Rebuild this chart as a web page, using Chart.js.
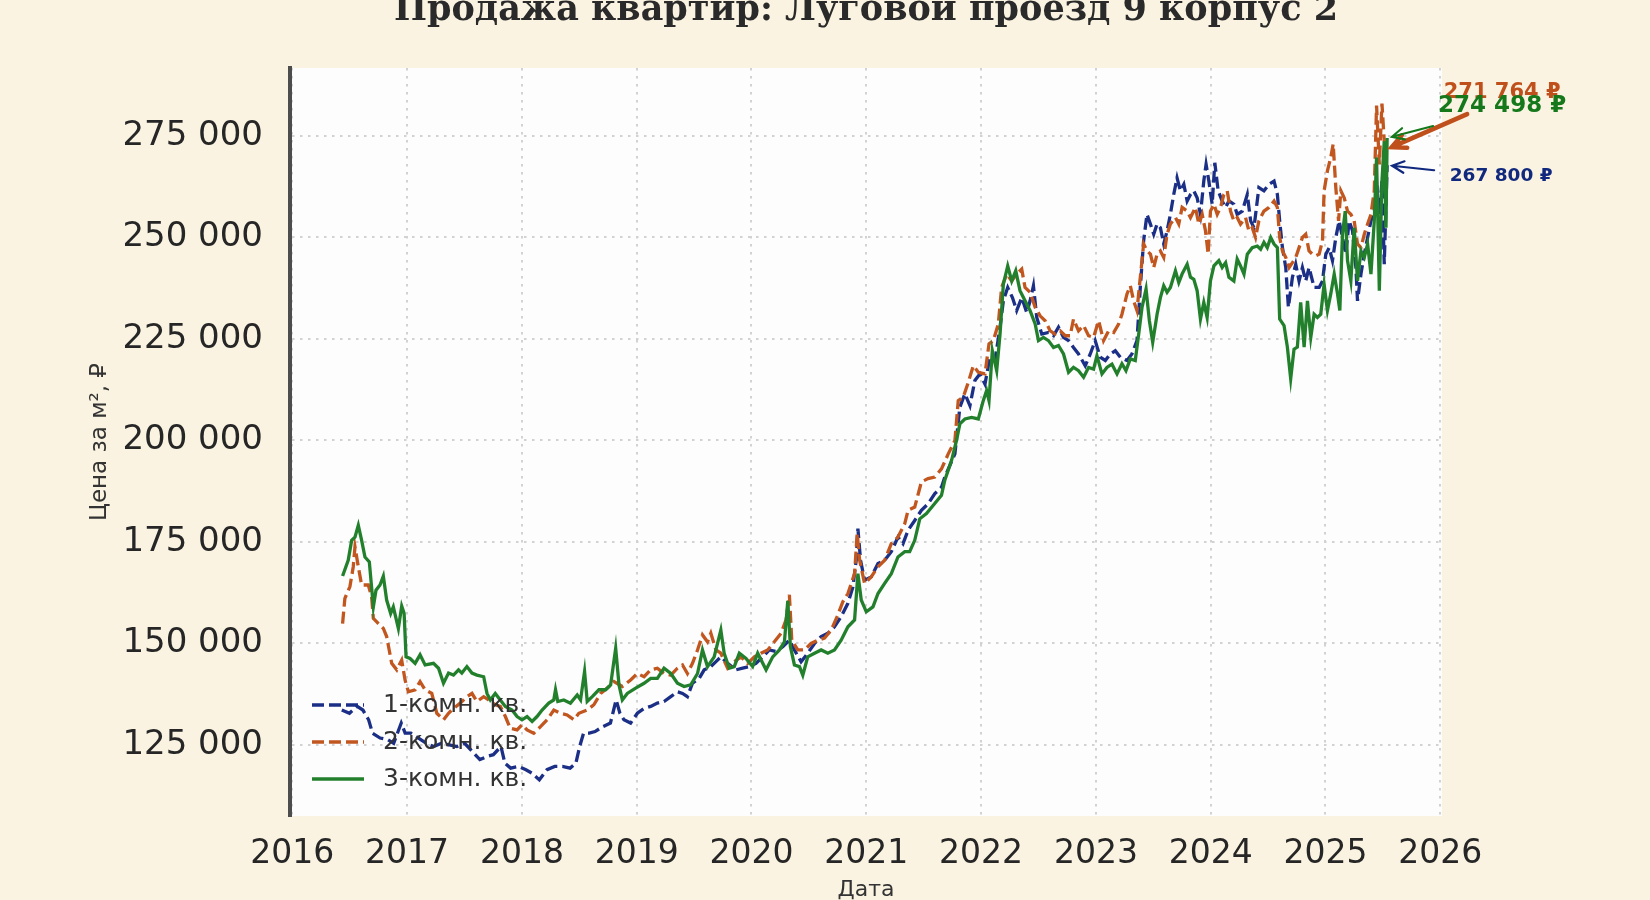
<!DOCTYPE html>
<html>
<head>
<meta charset="utf-8">
<script src="https://cdn.jsdelivr.net/npm/chart.js@4.4.1/dist/chart.umd.min.js"></script>
<style>
  html, body { margin: 0; padding: 0; background: #faf3e1; }
  canvas { display: block; }
</style>
</head>
<body>
<canvas id="chartCanvas" width="1650" height="900"></canvas>
<script>
const chartTitle = "Продажа квартир: Луговой проезд 9 корпус 2";
const seriesNames = ["1-комн. кв.", "2-комн. кв.", "3-комн. кв."];
const yearTicks = [2016, 2017, 2018, 2019, 2020, 2021, 2022, 2023, 2024, 2025, 2026];
const priceTicks = [125000, 150000, 175000, 200000, 225000, 250000, 275000];

// 1-комн. кв. (dates as decimal years, price per m2)
const dates1 = [
  2016.431,2016.498,2016.565,2016.615,2016.665,2016.699,2016.765,2016.832,2016.883,2016.949,2016.983,
  2017.033,2017.099,2017.167,2017.233,2017.300,2017.367,2017.434,2017.501,2017.567,2017.634,2017.701,2017.751,2017.818,2017.852,2017.902,2017.969,
  2018.035,2018.085,2018.152,2018.219,2018.286,2018.353,2018.420,2018.470,2018.503,2018.537,2018.587,2018.637,2018.704,2018.771,2018.821,2018.854,
  2018.889,2018.947,
  2019.006,2019.064,2019.122,2019.180,2019.238,2019.297,2019.355,2019.399,2019.442,2019.486,2019.544,2019.588,2019.646,2019.704,2019.733,2019.792,2019.864,2019.923,2019.981,
  2020.039,2020.097,2020.156,2020.214,2020.272,2020.330,2020.374,2020.432,2020.490,2020.549,2020.607,2020.665,2020.723,2020.781,2020.840,2020.883,2020.912,2020.927,2020.950,2020.985,
  2021.043,2021.102,2021.160,2021.218,2021.276,2021.320,2021.364,2021.422,2021.480,2021.538,2021.597,2021.655,
  2021.684,2021.772,2021.815,2021.859,2021.903,2021.946,2021.990,
  2022.034,2022.077,2022.121,2022.165,2022.194,2022.232,2022.273,2022.310,2022.354,2022.398,2022.427,2022.456,2022.485,2022.529,2022.587,2022.631,2022.674,2022.718,2022.762,2022.805,2022.849,2022.907,2022.951,2022.994,
  2023.038,2023.082,2023.125,2023.169,2023.213,
  2023.271,2023.314,2023.358,2023.387,2023.416,2023.445,2023.475,2023.504,2023.533,2023.562,2023.591,2023.620,2023.649,2023.678,2023.707,2023.736,2023.766,2023.795,2023.824,2023.853,2023.882,2023.911,2023.940,2023.960,2023.984,
  2024.013,2024.036,2024.065,2024.100,2024.130,2024.159,2024.202,2024.231,2024.275,2024.319,2024.348,2024.377,2024.420,2024.464,2024.508,2024.552,2024.581,2024.601,2024.625,2024.654,2024.677,2024.712,2024.741,2024.770,2024.799,2024.828,2024.857,2024.901,2024.945,2024.974,
  2025.003,2025.032,2025.061,2025.090,2025.119,2025.148,2025.177,2025.206,2025.236,2025.265,2025.279,2025.309,2025.338,2025.367,2025.396,2025.425,2025.445,2025.469,2025.492,2025.512,2025.537
];
const price1 = [
  133600,132800,134500,133600,131200,127900,126700,126300,125400,130400,127900,
  127900,126700,125400,124600,125400,125000,124600,125400,123400,121400,122200,122600,124600,120500,119300,119700,
  118900,118100,116400,118900,119700,119700,119300,120500,124600,127900,127900,128300,129500,130400,136100,132800,
  131200,130400,
  132800,134000,134500,135300,135700,136900,138100,137700,136900,140200,141400,143500,144300,145900,146700,145100,143500,143900,144300,
  145100,146700,148400,148000,149200,150800,148400,145500,147600,150000,151700,152500,154100,156600,159900,163900,170500,178300,170500,165600,
  166400,169700,170500,172600,176200,174600,177900,180300,182800,184400,186900,188500,
  191000,196700,208200,211500,208600,214800,216400,
  213900,220500,219700,227900,234400,237700,235200,232000,235200,231500,234400,238100,230300,226200,226600,225800,227900,225400,224600,222900,221300,218400,221300,224600,
  220500,219700,221300,222100,220500,
  219700,221300,224600,237700,249200,255700,253300,250800,253300,252400,248400,251600,255700,260600,264700,261500,263100,259000,260600,261500,259800,255700,263900,268000,263900,
  258200,268400,261500,259000,257400,259000,258200,255700,256500,260600,254100,252400,262300,261500,263100,263900,260600,254100,247500,242600,232800,240200,243400,239300,242600,239300,242600,237700,237700,239300,
  245900,247500,244300,250000,254100,250000,245900,254100,251600,242600,234400,241000,245900,250000,254100,256500,263900,255700,263900,243400,267800
];

// 2-комн. кв.
const dates2 = [
  2016.438,2016.458,2016.502,2016.531,2016.546,2016.575,2016.604,2016.662,2016.691,2016.706,2016.750,2016.793,2016.822,2016.866,2016.910,2016.953,2016.982,
  2017.011,2017.070,2017.113,2017.157,2017.215,2017.259,2017.317,2017.361,2017.404,2017.463,2017.521,2017.565,2017.608,2017.667,2017.710,2017.768,2017.812,2017.856,2017.899,2017.958,
  2018.001,2018.045,2018.103,2018.162,2018.220,2018.278,2018.336,2018.394,2018.453,2018.496,2018.569,2018.627,2018.686,2018.744,2018.802,
  2018.875,2018.947,
  2019.006,2019.064,2019.122,2019.180,2019.238,2019.297,2019.355,2019.399,2019.442,2019.486,2019.530,2019.573,2019.617,2019.646,2019.690,2019.733,2019.792,2019.850,2019.908,2019.966,
  2020.025,2020.083,2020.141,2020.199,2020.257,2020.301,2020.330,2020.351,2020.403,2020.461,2020.519,2020.578,2020.636,2020.694,2020.752,2020.796,2020.840,2020.898,2020.921,2020.942,2020.985,
  2021.043,2021.102,2021.160,2021.218,2021.276,2021.335,2021.364,2021.422,2021.480,2021.538,2021.597,2021.655,
  2021.714,2021.772,2021.801,2021.845,2021.888,2021.932,2021.976,
  2022.034,2022.069,2022.107,2022.150,2022.179,2022.223,2022.267,2022.310,2022.354,2022.383,2022.427,2022.471,2022.514,2022.558,2022.602,2022.645,2022.689,2022.733,2022.776,2022.805,2022.849,2022.893,2022.936,2022.980,
  2023.024,2023.067,2023.111,2023.155,2023.198,
  2023.227,2023.271,2023.300,2023.329,2023.358,2023.387,2023.416,2023.445,2023.475,2023.504,2023.533,2023.562,2023.591,2023.620,2023.649,2023.693,2023.722,2023.751,2023.795,2023.824,2023.867,2023.897,2023.926,2023.955,2023.978,2023.998,
  2024.028,2024.057,2024.086,2024.115,2024.144,2024.173,2024.202,2024.231,2024.260,2024.304,2024.333,2024.362,2024.391,2024.420,2024.464,2024.508,2024.552,2024.581,2024.601,2024.625,2024.654,2024.683,2024.712,2024.741,2024.770,2024.799,2024.828,2024.857,2024.886,2024.916,2024.945,2024.974,2024.988,
  2025.017,2025.046,2025.067,2025.090,2025.114,2025.134,2025.163,2025.192,2025.221,2025.250,2025.279,2025.309,2025.338,2025.367,2025.396,2025.425,2025.445,2025.469,2025.492,2025.512,2025.537
];
const price2 = [
  154900,161100,164000,168900,173800,168900,164400,164400,161500,156200,154900,153700,151700,145100,143500,145900,141000,
  138100,138600,140600,138600,137700,132800,131200,132800,134000,135300,136900,137700,135700,136900,136100,134900,134500,132000,129100,128700,
  130000,128700,127900,129500,131200,133600,132800,132400,131200,132800,133600,134900,137700,139000,140600,
  139400,141000,
  142600,141800,143500,143900,142600,142200,143900,144700,142600,145100,148400,152100,150400,152500,148400,147600,143900,145500,146700,145100,
  146700,147600,148400,150400,152500,155800,162000,150800,148400,148400,150000,150800,151300,153300,157000,160300,162300,167200,177100,170500,164800,
  166400,168900,170500,174600,176200,179500,182800,183600,189800,190600,191000,193000,
  196700,200000,209800,210700,214300,218400,216800,
  216400,223800,224600,228700,237700,241000,239300,241000,242200,237700,236500,232800,230700,229500,227000,226200,227000,225800,225800,229900,227000,228300,225800,225400,
  229500,224600,227000,226600,228700,
  231100,236100,238100,234400,232000,240200,248400,246700,245900,242600,245900,246700,245100,250800,253300,254900,253300,257400,256500,254900,257400,253300,255700,251600,245900,256500,
  258200,255700,257400,260600,261500,256500,254100,254900,253300,254900,251600,252400,250000,254100,256500,257400,259000,257400,250000,246700,245100,242600,243800,245100,247500,250000,250800,246700,245900,245500,245900,249200,261500,
  266400,269700,273000,262300,254100,261500,259800,256500,255700,254100,248400,247500,250800,253300,255700,261500,282500,268000,283000,273700,271764
];

// 3-комн. кв.
const dates3 = [
  2016.438,2016.487,2016.517,2016.546,2016.575,2016.604,2016.633,2016.671,2016.706,2016.729,2016.764,2016.793,2016.822,2016.857,2016.880,2016.924,2016.953,2016.974,2016.991,
  2017.026,2017.070,2017.113,2017.157,2017.230,2017.274,2017.317,2017.361,2017.404,2017.448,2017.477,2017.521,2017.565,2017.608,2017.667,2017.696,2017.725,2017.768,2017.812,2017.856,2017.914,2017.958,
  2018.001,2018.045,2018.089,2018.132,2018.176,2018.234,2018.278,2018.293,2018.313,2018.365,2018.423,2018.482,2018.511,2018.546,2018.569,2018.613,2018.671,2018.729,2018.773,2018.817,2018.846,
  2018.875,2018.918,2018.991,
  2019.064,2019.122,2019.180,2019.238,2019.297,2019.355,2019.413,2019.471,2019.530,2019.573,2019.617,2019.675,2019.733,2019.762,2019.806,2019.850,2019.894,2019.952,
  2020.010,2020.054,2020.127,2020.185,2020.243,2020.287,2020.316,2020.339,2020.374,2020.418,2020.447,2020.490,2020.549,2020.607,2020.665,2020.723,2020.781,2020.840,2020.898,2020.927,2020.956,
  2021.000,2021.058,2021.102,2021.160,2021.218,2021.276,2021.335,2021.378,2021.422,2021.466,2021.524,2021.582,2021.655,
  2021.684,2021.743,2021.786,2021.815,2021.859,2021.917,2021.976,
  2022.019,2022.048,2022.069,2022.098,2022.136,2022.165,2022.194,2022.232,2022.267,2022.302,2022.339,2022.383,2022.427,2022.471,2022.500,2022.543,2022.587,2022.631,2022.674,2022.718,2022.762,2022.805,2022.849,2022.893,2022.936,2022.980,
  2023.009,2023.053,2023.096,2023.140,2023.184,
  2023.227,2023.262,2023.300,2023.343,2023.373,2023.402,2023.437,2023.466,2023.495,2023.533,2023.562,2023.591,2023.620,2023.649,2023.693,2023.722,2023.751,2023.795,2023.824,2023.853,2023.882,2023.911,2023.940,2023.969,2023.998,
  2024.028,2024.071,2024.100,2024.130,2024.159,2024.202,2024.231,2024.260,2024.290,2024.319,2024.362,2024.406,2024.435,2024.464,2024.493,2024.523,2024.552,2024.581,2024.601,2024.639,2024.668,2024.697,2024.726,2024.755,2024.784,2024.814,2024.843,2024.872,2024.901,2024.930,2024.959,2024.988,
  2025.017,2025.046,2025.076,2025.105,2025.125,2025.148,2025.172,2025.192,2025.221,2025.250,2025.279,2025.309,2025.338,2025.367,2025.396,2025.425,2025.445,2025.469,2025.492,2025.512,2025.527,2025.537
];
const price3 = [
  166600,170500,175400,176200,179100,175400,171300,170100,159000,163100,164400,166600,160700,157400,159000,153700,159200,157400,146700,
  146300,145100,147200,144700,145100,143900,140200,142700,142200,143500,142700,144300,142700,142200,141800,137700,136100,137700,136100,134500,133600,132000,
  131200,132000,130800,132000,133600,135300,136100,138600,135700,136100,135300,137300,136100,143100,135700,136900,138600,138600,139800,148800,139800,
  136100,137700,139000,
  140200,141400,141400,143900,142600,140200,139400,139800,142600,148400,144300,146700,153300,147600,143900,144300,147600,146300,
  144300,147600,143500,146700,148400,150400,160500,149200,144700,144300,142200,146700,147600,148400,147600,148400,150800,154100,155800,167200,160700,
  157800,159000,162300,164800,167200,171300,172600,172600,175400,180700,182000,184000,186500,
  190200,195100,200000,204100,205300,205700,205300,
  209800,212300,209800,222100,217200,226200,238500,243000,239300,241800,236900,234400,232000,228700,224600,225400,224600,222900,223400,221300,216800,218000,217200,215600,218000,217600,
  220900,216400,218000,218800,216400,
  218900,217200,220100,219700,226200,232800,237300,229500,224200,231100,235200,238100,236500,237700,241800,238900,241000,243400,240200,239700,236900,229900,234000,230300,239300,
  243000,244300,242600,243800,240200,239300,244700,243000,241000,245900,247500,247900,247100,248800,247500,250000,248400,247500,229900,228300,223000,215200,222500,223000,234000,223000,234400,225400,231100,230300,231100,238500,
  232000,236100,241000,236100,232000,250800,256500,244300,239300,252400,239300,246700,245100,248400,241000,254100,269700,236900,263900,273700,252400,274498
];

const lineColors = ["#1b2f86", "#c1561f", "#22802c"];
const noteColors = ["#10297e", "#c0501b", "#15791c"];

function toPoints(xs, ys) {
    return xs.map((x, i) => ({ x: x, y: ys[i] }));
}

function fmtPrice(v) {
    return String(Math.round(v)).replace(/\B(?=(\d{3})+(?!\d))/g, " ");
}

const backdrop = {
    id: "backdrop",
    beforeDraw(chart) {
        const { ctx, chartArea: a } = chart;
        ctx.save();
        ctx.fillStyle = "#faf3e1";
        ctx.fillRect(0, 0, chart.width, chart.height);
        ctx.fillStyle = "#fdfdfd";
        ctx.fillRect(a.left, a.top, a.right - a.left, a.bottom - a.top);
        ctx.restore();
    }
};

// title, legend inside the plot, and end-value labels with arrows
const extras = {
    id: "extras",
    afterDraw(chart) {
        const { ctx, chartArea: a, scales } = chart;
        ctx.save();

        ctx.fillStyle = "#2a2a2a";
        ctx.font = 'bold 35px "DejaVu Serif"';
        ctx.textAlign = "center";
        ctx.textBaseline = "alphabetic";
        ctx.fillText(chartTitle, (a.left + a.right) / 2, 20);

        // legend
        ctx.font = '25px "DejaVu Sans"';
        ctx.textAlign = "left";
        ctx.textBaseline = "middle";
        chart.data.datasets.forEach((ds, i) => {
            const y = a.bottom - 111 + i * 37;
            ctx.strokeStyle = ds.borderColor;
            ctx.lineWidth = ds.borderWidth;
            ctx.setLineDash(ds.borderDash || []);
            ctx.beginPath();
            ctx.moveTo(a.left + 22, y);
            ctx.lineTo(a.left + 74, y);
            ctx.stroke();
            ctx.setLineDash([]);
            ctx.fillStyle = "#333333";
            ctx.fillText(ds.label, a.left + 93, y);
        });

        // last values
        const notes = [
            { ds: 1, tx: 115, ty: -57, size: 21, tail: [80, -35], lw: 4.5 },
            { ds: 2, tx: 115, ty: -32, size: 23, tail: [46, -12], lw: 2.2 },
            { ds: 0, tx: 114, ty: 11, size: 18.5, tail: [47, 5], lw: 2.2 }
        ];
        notes.forEach(n => {
            const data = chart.data.datasets[n.ds].data;
            const last = data[data.length - 1];
            const px = scales.x.getPixelForValue(last.x);
            const py = scales.y.getPixelForValue(last.y);
            const color = noteColors[n.ds];

            const sx = px + n.tail[0], sy = py + n.tail[1];
            const len = Math.hypot(sx - px, sy - py);
            const ux = (sx - px) / len, uy = (sy - py) / len;
            const ex = px + ux * 5, ey = py + uy * 5;
            ctx.strokeStyle = color;
            ctx.lineWidth = n.lw;
            ctx.lineCap = "round";
            ctx.beginPath();
            ctx.moveTo(sx, sy);
            ctx.lineTo(ex, ey);
            const head = 11 + n.lw, ang = 0.45;
            const base = Math.atan2(uy, ux);
            ctx.moveTo(ex + Math.cos(base + ang) * head, ey + Math.sin(base + ang) * head);
            ctx.lineTo(ex, ey);
            ctx.lineTo(ex + Math.cos(base - ang) * head, ey + Math.sin(base - ang) * head);
            ctx.stroke();

            ctx.fillStyle = color;
            ctx.font = 'bold ' + n.size + 'px "DejaVu Sans"';
            ctx.textAlign = "center";
            ctx.textBaseline = "middle";
            ctx.fillText(fmtPrice(last.y) + " ₽", px + n.tx, py + n.ty);
        });

        ctx.restore();
    }
};

const allDates = [dates1, dates2, dates3];
const allPrices = [price1, price2, price3];

const chart = new Chart(chartCanvas, {
    type: "line",
    data: {
        datasets: seriesNames.map((name, i) => ({
            label: name,
            data: toPoints(allDates[i], allPrices[i]),
            borderColor: lineColors[i],
            borderWidth: 3.3,
            borderDash: i < 2 ? [12, 5] : [],
            pointRadius: 0,
            tension: 0,
            fill: false,
            order: 2 - i
        }))
    },
    options: {
        responsive: false,
        animation: false,
        layout: { padding: { top: 68, right: 208, bottom: 0, left: 0 } },
        plugins: {
            legend: { display: false },
            tooltip: { enabled: false }
        },
        scales: {
            x: {
                type: "linear",
                min: 2015.98,
                max: 2026.015,
                afterBuildTicks: s => { s.ticks = yearTicks.map(v => ({ value: v })); },
                afterFit: s => { s.height = 84; },
                ticks: {
                    font: { family: "DejaVu Sans", size: 33 },
                    color: "#262626",
                    padding: 19,
                    maxRotation: 0,
                    autoSkip: false,
                    callback: v => String(v)
                },
                grid: { color: "#d2d2d2", lineWidth: 2, drawTicks: false },
                border: { display: false, dash: [2.5, 5.5] },
                title: {
                    display: true,
                    text: "Дата",
                    font: { family: "DejaVu Sans", size: 22, lineHeight: 0.9 },
                    color: "#333333",
                    padding: 0
                }
            },
            y: {
                min: 107500,
                max: 291750,
                afterBuildTicks: s => { s.ticks = priceTicks.map(v => ({ value: v })); },
                afterFit: s => { s.width = 290; },
                ticks: {
                    font: { family: "DejaVu Sans", size: 34 },
                    color: "#262626",
                    padding: 27,
                    callback: v => fmtPrice(v)
                },
                grid: { color: "#d2d2d2", lineWidth: 2, drawTicks: false },
                border: { display: true, color: "#4d4d4d", width: 4, dash: [2.5, 5.5] },
                title: {
                    display: true,
                    text: "Цена за м², ₽",
                    font: { family: "DejaVu Sans", size: 23 },
                    color: "#333333",
                    padding: { top: 86, bottom: 0 }
                }
            }
        }
    },
    plugins: [backdrop, extras]
});
</script>
</body>
</html>
